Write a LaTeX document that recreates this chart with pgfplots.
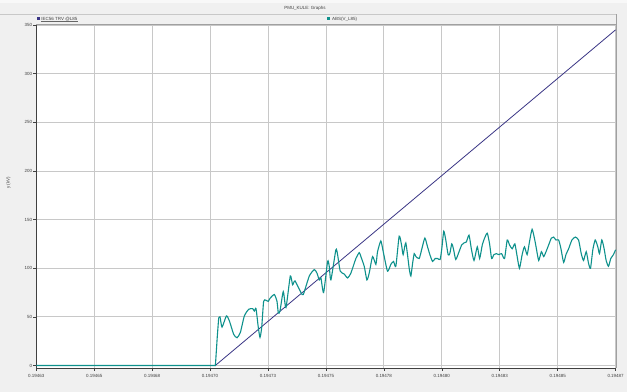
\documentclass[border=0pt]{standalone}
\usepackage{fontspec}
\setmainfont{Liberation Sans}
\usepackage{pgfplots}
\pgfplotsset{compat=1.18}
\definecolor{bg}{HTML}{F0F0F0}
\definecolor{gridc}{HTML}{C8C8C8}
\definecolor{trv}{HTML}{3A3585}
\definecolor{absc}{HTML}{0E918C}
\begin{document}
\begin{tikzpicture}
\fill[bg] (0,0) rectangle (627bp,392bp);
\fill[white!50!bg] (0,389bp) rectangle (627bp,392bp);
\node[font=\fontsize{4.5}{5}\selectfont, text=black!75] at (305bp,384bp) {PMU\_KULE: Graphs};
\draw[gridc, line width=0.6bp] (0,377.5bp) -- (617bp,377.5bp);
\draw[gridc!80!black, line width=0.6bp] (36bp,367.5bp) -- (617bp,367.5bp);
\draw[gridc!80!black, line width=0.8bp] (617bp,377.5bp) -- (617bp,23.6bp);
% legend
\fill[trv] (36.5bp,371.5bp) rectangle (39.5bp,374.5bp);
\node[font=\fontsize{4.5}{5}\selectfont, text=black!75, anchor=west, inner sep=0.5bp] (l1) at (40.5bp,373bp) {IEC56 TRV @L85};
\draw[black!60, line width=0.3bp] (l1.south west) -- (l1.south east);
\fill[absc] (327.5bp,371.5bp) rectangle (330.5bp,374.5bp);
\node[font=\fontsize{4.5}{5}\selectfont, text=black!75, anchor=west, inner sep=0.5bp] at (331.5bp,373bp) {ABS(V\_L85)};
\begin{axis}[
  at={(36bp,23.6bp)}, anchor=south west,
  width=580bp, height=343.4bp, scale only axis,
  xmin=0, xmax=10, ymin=-2.5, ymax=350,
  xtick={0,1,...,10},
  xticklabels={0.19463,0.19465,0.19468,0.19470,0.19473,0.19475,0.19478,0.19480,0.19483,0.19485,0.19487},
  ytick={0,50,...,350},
  grid=major,
  major grid style={gridc, line width=0.8bp},
  axis background/.style={fill=white},
  axis lines*=left,
  axis line style={black!75, line width=0.6bp},
  tick align=outside,
  major tick length=3bp,
  tick style={black!75, line width=0.5bp},
  tick label style={font=\fontsize{4.5}{5}\selectfont, text=black!75},
  /pgf/number format/assume math mode=true,
  yticklabel style={inner sep=1bp},
  ylabel={y (kV)},
  ylabel style={at={(axis description cs:-0.048,0.54)}, anchor=center, font=\fontsize{4.5}{5}\selectfont, text=black!75},
  clip=false,
]
\addplot[trv, line width=0.8bp] coordinates {(0,0) (3.09,0) (10,345)};
\addplot[absc, line width=1.1bp] coordinates {(0,0) (3.092,0) (3.125,30) (3.149,49)};
\addplot[absc, line width=1.1bp, smooth, tension=0.35] coordinates {
(3.149,49) (3.172,50) (3.207,39.5) (3.282,51) (3.333,46) (3.408,32) (3.466,28.6) (3.523,34)
(3.592,51) (3.667,57.8) (3.736,58.5) (3.764,56) (3.793,58.5) (3.833,39) (3.862,29) (3.891,39) (3.925,66)
(3.966,67) (4.006,66) (4.034,69) (4.109,73) (4.155,66) (4.178,54) (4.207,56) (4.264,76) (4.310,59.5)
(4.385,92) (4.425,83) (4.466,87) (4.569,75) (4.609,73) (4.713,92) (4.799,98.6) (4.845,95) (4.885,88)
(4.914,90) (4.960,75) (5.029,107) (5.057,102) (5.086,88) (5.172,119) (5.201,114) (5.247,97) (5.316,94)
(5.374,90) (5.431,95) (5.517,110) (5.575,116) (5.603,112) (5.661,102) (5.707,88) (5.747,95) (5.805,112)
(5.862,104) (5.891,117) (5.948,128) (5.989,117) (6.063,97) (6.121,104) (6.167,107) (6.207,102) (6.264,133)
(6.305,124) (6.333,114) (6.379,126) (6.437,100) (6.466,92) (6.496,105) (6.524,115) (6.553,112) (6.610,110)
(6.656,120) (6.708,131) (6.754,122) (6.794,114) (6.840,107) (6.885,110) (6.926,110) (6.971,109) (7.000,120)
(7.034,138) (7.069,129) (7.109,114) (7.138,115) (7.172,125) (7.201,120) (7.241,109) (7.298,117) (7.344,124)
(7.384,126) (7.424,127) (7.470,134) (7.510,120) (7.556,108) (7.613,122) (7.653,110) (7.699,124) (7.739,131)
(7.785,136) (7.825,125) (7.860,110) (7.900,114) (7.940,115) (7.986,114) (8.032,115) (8.083,110) (8.129,129)
(8.169,124) (8.215,120) (8.261,125) (8.301,112) (8.341,100) (8.387,114) (8.427,122) (8.473,114) (8.513,127)
(8.559,140) (8.605,129) (8.633,120) (8.673,108) (8.719,117) (8.759,112) (8.799,117) (8.845,124) (8.891,131)
(8.931,132) (8.971,129) (9.017,129) (9.057,120) (9.103,106) (9.143,114) (9.189,120) (9.246,129) (9.304,132)
(9.361,129) (9.407,115) (9.447,108) (9.493,117) (9.533,105) (9.567,100) (9.607,119) (9.648,129) (9.693,122)
(9.722,115) (9.762,129) (9.802,120) (9.837,108) (9.877,102) (9.917,110) (9.963,114) (10.0,119)
};
\end{axis}
\end{tikzpicture}
\end{document}
